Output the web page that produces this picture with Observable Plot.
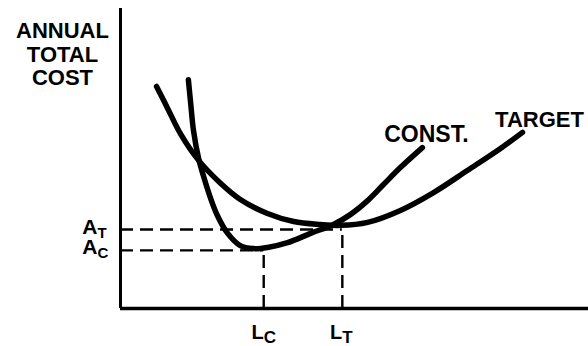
<!DOCTYPE html>
<html>
<head>
<meta charset="utf-8">
<script src="https://cdn.jsdelivr.net/npm/d3@7"></script>
<script src="https://cdn.jsdelivr.net/npm/@observablehq/plot@0.6"></script>
<style>
  html, body { margin: 0; padding: 0; background: #fff; }
  svg { display: block; }
</style>
</head>
<body>
<div id="chart"></div>
<script>
// Schematic curves (arbitrary units: location x 0-100, annual total cost y 0-100)
const constX  = [14.5, 15.0, 15.6, 16.7, 17.7, 19.2, 20.7, 22.9, 25.6, 28.4, 31.4, 35.7, 40.6, 45.5, 49.1, 52.8, 56.2, 59.8, 64.5];
const constY  = [76.8, 68.8, 59.7, 50.3, 44.6, 37.2, 31.2, 25.2, 21.1, 20.1, 20.5, 22.1, 25.2, 28.2, 31.5, 36.2, 41.6, 47.3, 54.0];
const targetX = [7.7, 10.0, 12.8, 16.7, 21.2, 25.6, 31.4, 37.0, 42.7, 47.0, 52.8, 59.8, 66.9, 74.1, 81.2, 85.9];
const targetY = [74.5, 67.4, 58.7, 49.7, 42.3, 36.6, 31.9, 29.2, 28.2, 27.9, 28.9, 32.9, 38.9, 46.3, 53.7, 59.1];

const seriesNames = ["CONST.", "TARGET"];
const yTickMain = ["A", "A"];
const yTickSub  = ["T", "C"];
const yTickValues = [26.5, 19.5];
const xTickMain = ["L", "L"];
const xTickSub  = ["C", "T"];
const xTickValues = [30.6, 47.4];
const yLabel = "ANNUAL\nTOTAL\nCOST";

const curves = [
  constX.map((x, i) => ({series: seriesNames[0], x, y: constY[i]})),
  targetX.map((x, i) => ({series: seriesNames[1], x, y: targetY[i]}))
];
const ends = curves.map(c => c[c.length - 1]);

// dashed guides: A_T reaches L_T, A_C reaches L_C
const hGuides = [
  {y: yTickValues[0], x2: xTickValues[1]},
  {y: yTickValues[1], x2: xTickValues[0]}
];
const vGuides = [
  {x: xTickValues[0], y2: yTickValues[1]},
  {x: xTickValues[1], y2: yTickValues[0]}
];
const yTicks = yTickValues.map((v, i) => ({v, main: yTickMain[i], sub: yTickSub[i]}));
const xTicks = xTickValues.map((v, i) => ({v, main: xTickMain[i], sub: xTickSub[i]}));

const font = "'Liberation Sans', Arial, sans-serif";
const dash = "13,7";

const chart = Plot.plot({
  width: 588,
  height: 346,
  marginLeft: 120,
  marginRight: 0,
  marginTop: 10,
  marginBottom: 38,
  x: {domain: [0, 100], axis: null},
  y: {domain: [0, 100], axis: null},
  style: {fontFamily: font, background: "#fff", color: "#000"},
  marks: [
    Plot.ruleY(hGuides, {y: "y", x1: 0, x2: "x2", stroke: "#000", strokeWidth: 2.4, strokeDasharray: dash}),
    Plot.ruleX(vGuides, {x: "x", y1: 0, y2: "y2", stroke: "#000", strokeWidth: 2.4, strokeDasharray: dash}),
    Plot.ruleX([0], {y1: 0, y2: 100.7, stroke: "#000", strokeWidth: 3}),
    Plot.ruleY([0], {x1: 0, x2: 100, stroke: "#000", strokeWidth: 3.5}),
    ...curves.map(c => Plot.line(c, {x: "x", y: "y", curve: "catmull-rom", stroke: "#000", strokeWidth: 5.5, strokeLinecap: "round"})),
    // series labels at curve ends
    Plot.text([ends[0]], {x: "x", y: "y", text: "series", dx: 4, dy: -6, lineAnchor: "bottom", textAnchor: "middle", fontSize: 23, fontWeight: "bold", fill: "#000"}),
    Plot.text([ends[1]], {x: "x", y: "y", text: "series", dx: 17, dy: -5, lineAnchor: "bottom", textAnchor: "middle", fontSize: 22, fontWeight: "bold", fill: "#000"}),
    // y "ticks" A_T, A_C
    Plot.text(yTicks, {x: 0, y: "v", text: "main", dx: -23, dy: 4, lineAnchor: "bottom", textAnchor: "end", fontSize: 21, fontWeight: "bold", fill: "#000"}),
    Plot.text(yTicks, {x: 0, y: "v", text: "sub", dx: -23, dy: 8, lineAnchor: "bottom", textAnchor: "start", fontSize: 15, fontWeight: "bold", fill: "#000"}),
    // x "ticks" L_C, L_T
    Plot.text(xTicks, {x: "v", y: 0, text: "main", dx: 0, dy: 30, lineAnchor: "bottom", textAnchor: "end", fontSize: 20, fontWeight: "bold", fill: "#000"}),
    Plot.text(xTicks, {x: "v", y: 0, text: "sub", dx: 0, dy: 34, lineAnchor: "bottom", textAnchor: "start", fontSize: 17, fontWeight: "bold", fill: "#000"}),
    // y axis label
    Plot.text([yLabel], {frameAnchor: "top-left", dx: -58, dy: 11, lineAnchor: "top", textAnchor: "middle", lineHeight: 1.07, fontSize: 22, fontWeight: "bold", fill: "#000"})
  ]
});
document.getElementById("chart").appendChild(chart);
</script>
</body>
</html>
